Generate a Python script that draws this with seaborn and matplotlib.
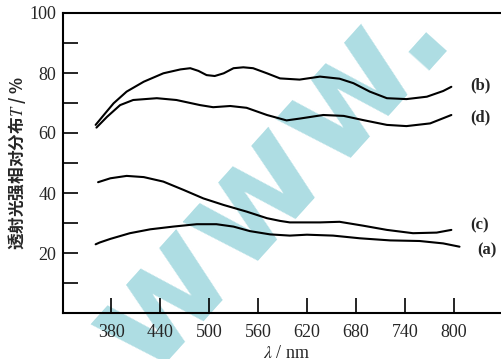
import numpy as np
import pandas as pd
import seaborn as sns
import matplotlib.pyplot as plt

# ------------------------------- data ------------------------------- #
wl_a = [361, 366, 379, 403, 428, 456, 485, 509, 530, 550, 575, 599, 620, 652, 685, 722, 758, 787, 807]
t_a = [22.9, 23.5, 24.7, 26.6, 27.9, 28.8, 29.6, 29.6, 28.8, 27.3, 26.2, 25.8, 26.1, 25.8, 24.9, 24.2, 24.0, 23.2, 22.1]

wl_b = [361, 371, 383, 399, 420, 444, 465, 477, 487, 497, 507, 518, 530, 542, 554, 571, 587, 611, 636, 660, 677,
        697, 718, 742, 767, 787, 797]
t_b = [62.7, 66.0, 69.9, 73.8, 77.1, 79.9, 81.2, 81.6, 80.7, 79.3, 79.0, 79.9, 81.6, 81.9, 81.6, 79.9, 78.2, 77.8,
       78.8, 78.1, 76.6, 73.8, 71.6, 71.3, 72.1, 74.0, 75.4]

wl_c = [364, 379, 399, 420, 444, 469, 493, 518, 546, 571, 587, 599, 611, 636, 660, 689, 718, 750, 779, 797]
t_c = [43.6, 44.9, 45.7, 45.3, 43.8, 41.0, 38.2, 36.0, 33.8, 31.6, 30.7, 30.2, 30.2, 30.2, 30.4, 29.1, 27.7, 26.6,
       26.8, 27.7]

wl_d = [362, 375, 391, 407, 436, 460, 489, 505, 526, 546, 571, 595, 611, 640, 665, 689, 718, 742, 771, 797]
t_d = [61.8, 65.4, 69.3, 71.0, 71.6, 71.0, 69.3, 68.6, 69.0, 68.4, 66.0, 64.2, 64.8, 66.0, 65.7, 64.3, 62.7, 62.3,
       63.2, 66.0]

curve_names = ['(a)', '(b)', '(c)', '(d)']
label_pos = {'(a)': (829, 21.0), '(b)': (820, 76.0), '(c)': (820, 29.3), '(d)': (820, 65.3)}

x_ticks = [380, 440, 500, 560, 620, 680, 740, 800]
y_ticks = [20, 40, 60, 80, 100]

# ------------------------------- setting ------------------------------- #
sns.set_style('ticks')
plt.rcParams['font.family'] = ['Liberation Serif', 'DejaVu Serif']
plt.rcParams['mathtext.fontset'] = 'stix'

frames = []
for name, wl, t in zip(curve_names, [wl_a, wl_b, wl_c, wl_d], [t_a, t_b, t_c, t_d]):
    frames.append(pd.DataFrame({'wl': wl, 'T': t, 'curve': name}))
df = pd.concat(frames, ignore_index=True)

fig = plt.figure(figsize=(5.01, 3.59), dpi=100)
ax = fig.add_axes([63 / 501, 46 / 359, 1 - 63 / 501 + 0.01, 300 / 359])
ax.set_zorder(2)
ax.patch.set_alpha(0)

# watermark
fig.text(0.54, 0.50, 'www.', color='#aedde3', fontsize=108, fontweight='bold',
         family='DejaVu Sans', rotation=48, ha='center', va='center', zorder=0)

sns.lineplot(data=df, x='wl', y='T', hue='curve', units='curve', estimator=None,
             sort=False, palette=['black'] * 4, linewidth=1.5, legend=False, ax=ax)
for line in ax.lines:
    line.set_solid_joinstyle('round')
    line.set_solid_capstyle('round')

for name, (lx, ly) in label_pos.items():
    ax.text(lx, ly, name, fontsize=12, fontweight='bold', ha='left', va='center')

ax.set_xlim(321, 864)
ax.set_ylim(0, 100)
ax.set_xticks(x_ticks)
ax.set_yticks(y_ticks)
ax.set_yticks([10, 30, 50, 70, 90], minor=True)
ax.tick_params(axis='both', which='both', direction='in', length=11, width=1.2,
               labelsize=13, color='black')
ax.tick_params(axis='x', pad=8)
ax.tick_params(axis='y', pad=5)
for s in ['left', 'bottom', 'top']:
    ax.spines[s].set_linewidth(1.5)
    ax.spines[s].set_color('black')
ax.spines['right'].set_visible(False)

ax.set_xlabel(r'$\lambda$ / nm', fontsize=13, labelpad=0)
ax.xaxis.set_label_coords(0.505, -0.105)
ax.set_ylabel('透射光强相对分布$T$ / %', fontsize=12, fontweight='bold',
              family=['Noto Sans CJK SC', 'DejaVu Sans'])
ax.yaxis.set_label_coords(-0.08, 0.5)

plt.savefig('out.png', dpi=100)
